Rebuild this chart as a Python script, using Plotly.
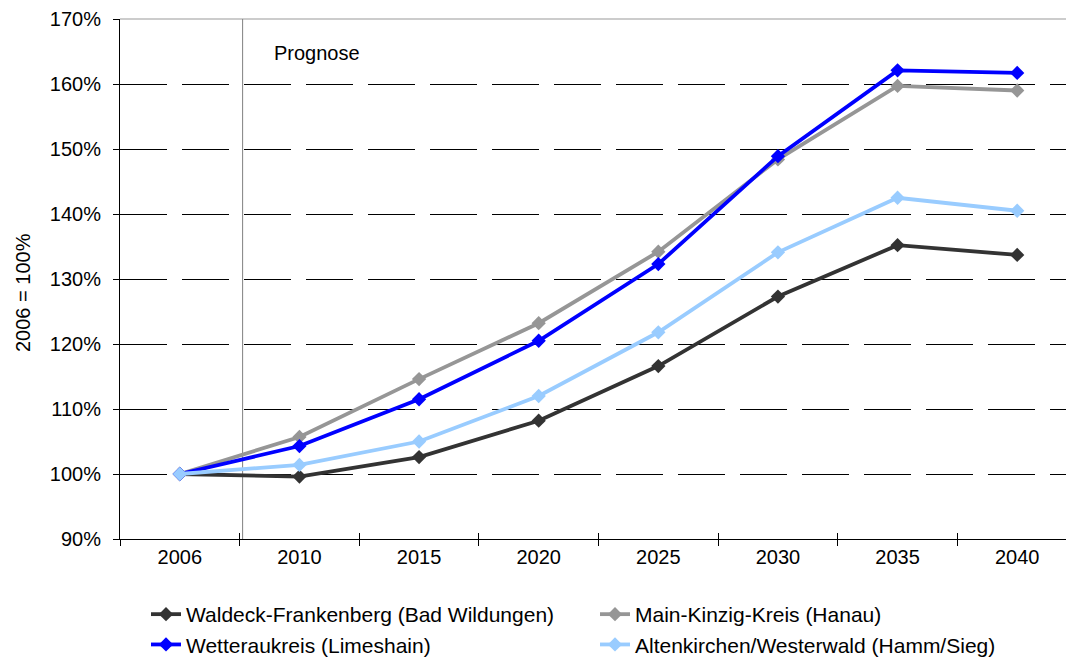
import plotly.graph_objects as go

years = ["2006", "2010", "2015", "2020", "2025", "2030", "2035", "2040"]
waldeck = [100, 99.6, 102.6, 108.2, 116.6, 127.3, 135.2, 133.7]
main_kinzig = [100, 105.7, 114.6, 123.2, 134.2, 148.4, 159.7, 159.0]
wetterau = [100, 104.3, 111.5, 120.5, 132.3, 148.9, 162.1, 161.7]
altenkirchen = [100, 101.4, 105.0, 112.0, 121.8, 134.1, 142.5, 140.5]

series_names = [
    "Waldeck-Frankenberg (Bad Wildungen)",
    "Main-Kinzig-Kreis (Hanau)",
    "Wetteraukreis (Limeshain)",
    "Altenkirchen/Westerwald (Hamm/Sieg)",
]
series_values = [waldeck, main_kinzig, wetterau, altenkirchen]
series_colors = ["#333333", "#969696", "#0000FF", "#99CCFF"]

y_ticks = [90, 100, 110, 120, 130, 140, 150, 160, 170]
y_ticktext = [f"{v}%" for v in y_ticks]

FONT = "Liberation Sans, Arial, sans-serif"

fig = go.Figure()
for name, vals, col in zip(series_names, series_values, series_colors):
    fig.add_trace(go.Scatter(
        x=years, y=vals, name=name, mode="lines+markers",
        line=dict(color=col, width=3.8),
        marker=dict(symbol="diamond", size=11, color=col),
        hoverinfo="skip",
    ))

# invisible helper trace for the overlay axis (inner half of crossing ticks)
fig.add_trace(go.Scatter(x=years, y=[None] * len(years), xaxis="x2",
                         showlegend=False, hoverinfo="skip", mode="lines"))

fig.update_layout(
    width=1066, height=659,
    margin=dict(l=120, r=0, t=19, b=120),
    paper_bgcolor="white", plot_bgcolor="white",
    font=dict(family=FONT, size=20, color="black"),
    xaxis=dict(
        type="category", categoryorder="array", categoryarray=years,
        range=[-0.5, 7.408], tickson="boundaries",
        ticks="outside", ticklen=6, tickcolor="black", tickwidth=1,
        showline=True, linecolor="black", linewidth=1,
        showgrid=False, zeroline=False,
        tickfont=dict(size=20),
    ),
    xaxis2=dict(
        type="category", categoryorder="array", categoryarray=years,
        overlaying="x", matches="x", tickson="boundaries",
        ticks="inside", ticklen=6, tickcolor="black", tickwidth=1,
        showticklabels=False, showline=False, showgrid=False, zeroline=False,
    ),
    yaxis=dict(
        range=[90, 170], tickmode="array", tickvals=y_ticks, ticktext=y_ticktext,
        ticks="outside", ticklen=6, tickcolor="black", tickwidth=1,
        ticklabelstandoff=8,
        showline=True, linecolor="black", linewidth=1,
        showgrid=True, gridcolor="black", gridwidth=1, griddash="47px,15px",
        zeroline=False, tickfont=dict(size=20),
    ),
    legend=dict(
        orientation="h", xref="container", yref="container",
        x=146 / 1066, y=1 - 594 / 659, xanchor="left", yanchor="top",
        entrywidth=404, entrywidthmode="pixels",
        font=dict(size=21, family=FONT), bgcolor="rgba(0,0,0,0)",
        traceorder="normal",
    ),
    showlegend=True,
)

# top border of plot area
fig.add_shape(type="line", xref="paper", yref="paper", x0=0, x1=1, y0=1, y1=1,
              line=dict(color="#999999", width=1), layer="below")
# forecast boundary line
fig.add_shape(type="line", xref="x", yref="paper", x0=0.525, x1=0.525, y0=0, y1=1,
              line=dict(color="#808080", width=1), layer="below")

fig.add_annotation(text="Prognose", xref="paper", yref="paper",
                   x=(272 - 120) / 946, y=(539 - 53) / 520,
                   xanchor="left", yanchor="middle", showarrow=False,
                   font=dict(size=20, family=FONT))
fig.add_annotation(text="2006 = 100%", xref="paper", yref="paper",
                   x=(23 - 120) / 946, y=(539 - 293) / 520, textangle=-90,
                   xanchor="center", yanchor="middle", showarrow=False,
                   font=dict(size=20, family=FONT))

fig.write_html("out.html")
